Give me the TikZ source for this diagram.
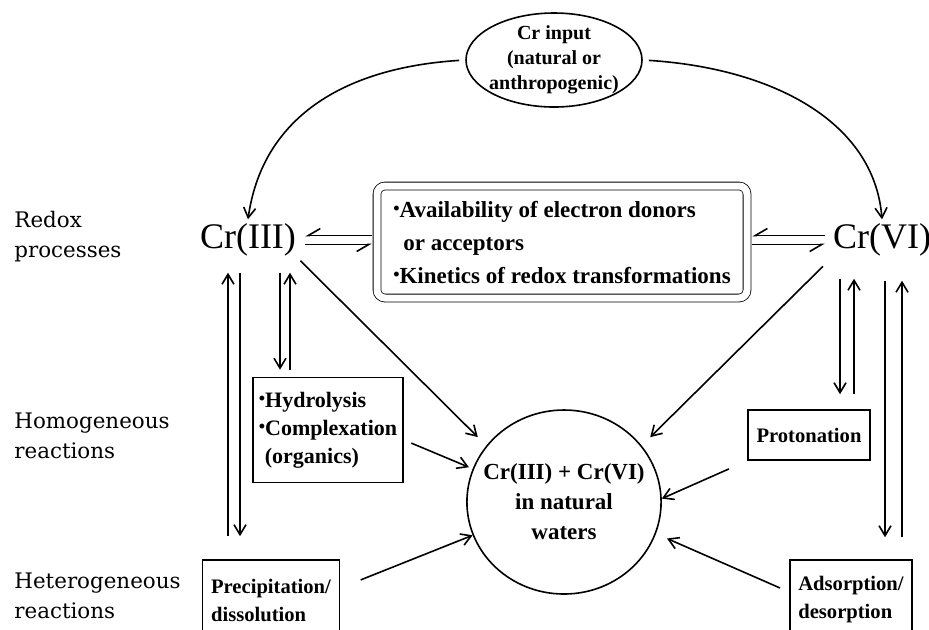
\documentclass[tikz,border=0pt]{standalone}
\usepackage{fontspec}
\setmainfont{Liberation Serif}
\newfontfamily\sidefont{DejaVu Serif}
\usetikzlibrary{arrows.meta,positioning,calc,shapes.geometric}
\newcommand\dotmark{\raisebox{0.25ex}{\fontsize{9}{9}\selectfont\textbullet}}

\begin{document}
\begin{tikzpicture}[x=0.5pt,y=-0.5pt,>={Straight Barb[length=5pt,width=6pt]},
side/.style={anchor=west,inner sep=0pt,align=left,font=\sidefont\fontsize{10.7}{15}\selectfont},
box/.style={draw,thick,align=left,inner xsep=3pt,font=\bfseries\fontsize{10.3}{14}\selectfont},
species/.style={inner sep=2pt,font=\fontsize{18}{20}\selectfont},
flow/.style={->,thick},
eq/.style={thick,-{Straight Barb[harpoon,swap,length=6pt,width=7pt]}}]
\useasboundingbox (0,0) rectangle (929,629);
% row labels
\node[side] (lredox) at (14,237) {Redox\\processes};
\node[side] (lhomo) at (14,436) {Homogeneous\\reactions};
\node[side] (lhetero) at (14,596) {Heterogeneous\\reactions};
% species and process boxes
\node[ellipse,draw,thick,minimum width=88pt,minimum height=47pt,inner xsep=-5pt,inner ysep=-1pt,align=center,
  font=\bfseries\fontsize{10}{12.5}\selectfont] (input) at (554,60) {Cr input\\(natural or\\anthropogenic)};
\node[species] (cr3) at (248,240) {Cr(III)};
\node[species] (cr6) at (882,240) {Cr(VI)};
\node[draw,double,double distance=3.5pt,rounded corners=4pt,minimum width=185pt,minimum height=56pt,
  align=left,font=\bfseries\fontsize{11.5}{16.5}\selectfont] (redox) at (562,242)
  {\dotmark Availability of electron donors\\\hspace{5pt}or acceptors\\\dotmark Kinetics of redox transformations};
\node[box,minimum width=75pt,minimum height=52.5pt,font=\bfseries\fontsize{11}{14}\selectfont] (hyd) at (328,430)
  {\dotmark Hydrolysis\\\dotmark Complexation\\\hspace{3pt}(organics)};
\node[box,minimum width=68.5pt,minimum height=40pt] (prec) at (271,600) {Precipitation/\\dissolution};
\node[box,minimum width=61pt,minimum height=25pt] (prot) at (809,435) {Protonation};
\node[box,minimum width=61pt,minimum height=40pt] (ads) at (851,600) {Adsorption/\\desorption};
\node[ellipse,draw,thick,minimum width=96pt,minimum height=92pt,inner xsep=-6pt,align=center,
  font=\bfseries\fontsize{11.5}{15}\selectfont] (water) at (564,502) {Cr(III) + Cr(VI)\\in natural\\waters};
% input
\draw[flow,shorten <=3pt] (input.west) .. controls (340,68) and (262,120) .. (cr3.north);
\draw[flow,shorten <=3pt] (input.east) .. controls (770,68) and (874,120) .. (cr6.north);
% redox equilibria
\draw[eq] ($(cr3.east -| redox.west)+(-5,-4.5)$) -- ($(cr3.east)+(5,-4.5)$);
\draw[eq] ($(cr3.east)+(5,4.5)$) -- ($(cr3.east -| redox.west)+(-5,4.5)$);
\draw[eq] ($(cr6.west)+(-4,-4.5)$) -- ($(cr6.west -| redox.east)+(5,-4.5)$);
\draw[eq] ($(cr6.west -| redox.east)+(5,4.5)$) -- ($(cr6.west)+(-4,4.5)$);
% vertical exchanges
\draw[flow,<-] ($(cr3.south)+(-20,12)$) -- ($(cr3.south |- prec.north)+(-20,-23)$);
\draw[flow] ($(cr3.south)+(-8,12)$) -- ($(cr3.south |- prec.north)+(-8,-23)$);
\draw[flow] ($(cr3.south)+(32,12)$) -- ($(cr3.south |- hyd.north)+(32,-7)$);
\draw[flow,<-] ($(cr3.south)+(42,12)$) -- ($(cr3.south |- hyd.north)+(42,-7)$);
\draw[flow] ($(cr6.south)+(-42,18)$) -- ($(cr6.south |- prot.north)+(-42,-15)$);
\draw[flow,<-] ($(cr6.south)+(-28,18)$) -- ($(cr6.south |- prot.north)+(-28,-15)$);
\draw[flow] ($(cr6.south)+(3,20)$) -- ($(cr6.south |- ads.north)+(3,-22)$);
\draw[flow,<-] ($(cr6.south)+(20,20)$) -- ($(cr6.south |- ads.north)+(20,-22)$);
% into natural waters
\draw[flow,shorten >=6pt] (cr3.south east) -- (water.144);
\draw[flow,shorten <=4pt,shorten >=2pt] ([yshift=-5pt]hyd.east) -- (water.160);
\draw[flow,shorten <=11pt] ([yshift=6pt]prec.east) -- (water.200);
\draw[flow,shorten <=4pt,shorten >=6pt] (cr6.south west) -- (water.36);
\draw[flow,shorten <=10pt] (prot.south west) -- (water.2);
\draw[flow,shorten <=5pt,shorten >=6pt] ([yshift=4pt]ads.west) -- (water.-19);
\end{tikzpicture}
\end{document}
